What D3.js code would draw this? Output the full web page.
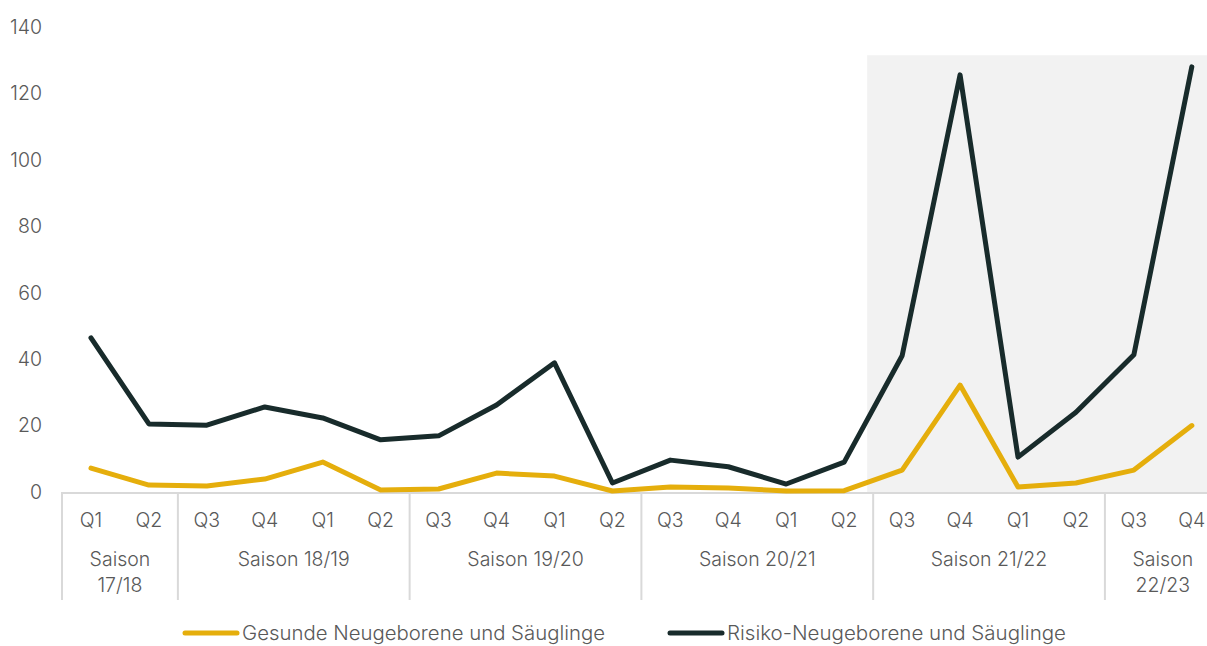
<!DOCTYPE html>
<html>
<head>
<meta charset="utf-8">
<script src="https://cdn.jsdelivr.net/npm/d3@7"></script>
<style>
  body { margin: 0; background: #fff; }
  svg { display: block; font-family: Inter, "Noto Sans", sans-serif; font-weight: 300; }
</style>
</head>
<body>
<script>
// Quarters and seasons
const quarters = ["Q1","Q2","Q3","Q4","Q1","Q2","Q3","Q4","Q1","Q2","Q3","Q4","Q1","Q2","Q3","Q4","Q1","Q2","Q3","Q4"];
const seasons = [
  { name: ["Saison", "17/18"], start: 0, end: 2 },
  { name: ["Saison 18/19"], start: 2, end: 6 },
  { name: ["Saison 19/20"], start: 6, end: 10 },
  { name: ["Saison 20/21"], start: 10, end: 14 },
  { name: ["Saison 21/22"], start: 14, end: 18 },
  { name: ["Saison", "22/23"], start: 18, end: 20 }
];
const healthy = [7.2, 2.1, 1.8, 3.9, 9.0, 0.6, 0.9, 5.7, 4.8, 0.3, 1.5, 1.2, 0.3, 0.4, 6.6, 32.2, 1.5, 2.7, 6.6, 20];
const risk = [46.4, 20.5, 20.1, 25.6, 22.3, 15.7, 16.9, 26.2, 38.9, 2.7, 9.6, 7.6, 2.4, 9.0, 41.0, 125.6, 10.5, 24.0, 41.3, 128];
const yTicks = [0, 20, 40, 60, 80, 100, 120, 140];
const shadeFrom = 14;

const W = 1207, H = 646;
const plotLeft = 62, bandW = 57.94, plotTop = 27, plotBottom = 492;

const svg = d3.select("body").append("svg")
  .attr("width", W).attr("height", H);

const idx = d3.range(quarters.length);
const x = d3.scaleBand()
  .domain(idx)
  .range([plotLeft, plotLeft + bandW * quarters.length]);
const y = d3.scaleLinear().domain([0, 140]).range([plotBottom, plotTop]);

// shaded area
svg.append("rect")
  .attr("x", x(shadeFrom) - 6)
  .attr("y", y(131.5))
  .attr("width", W - x(shadeFrom) + 6)
  .attr("height", plotBottom - y(131.5))
  .attr("fill", "#f2f2f2");

// y tick labels
svg.selectAll(".ytick")
  .data(yTicks)
  .enter().append("text")
  .attr("x", 42)
  .attr("y", d => y(d))
  .attr("dy", "0.35em")
  .attr("text-anchor", "end")
  .attr("fill", "#595959")
  .style("font-size", "19.5px")
  .text(d => d);

// axis line
svg.append("line")
  .attr("x1", plotLeft).attr("x2", W)
  .attr("y1", plotBottom + 1).attr("y2", plotBottom + 1)
  .attr("stroke", "#d9d9d9").attr("stroke-width", 2);

// season separators
const seps = [0].concat(seasons.map(s => s.end));
svg.selectAll(".sep")
  .data(seps)
  .enter().append("line")
  .attr("x1", d => x(0) + d * x.bandwidth())
  .attr("x2", d => x(0) + d * x.bandwidth())
  .attr("y1", plotBottom).attr("y2", 600)
  .attr("stroke", "#d9d9d9").attr("stroke-width", 2);

// quarter labels
svg.selectAll(".qlab")
  .data(idx)
  .enter().append("text")
  .attr("x", d => x(d) + x.bandwidth() / 2)
  .attr("y", 520)
  .attr("dy", "0.35em")
  .attr("text-anchor", "middle")
  .attr("fill", "#595959")
  .style("font-size", "19.5px")
  .text(d => quarters[d]);

// season labels
const sg = svg.selectAll(".slab")
  .data(seasons)
  .enter().append("text")
  .attr("text-anchor", "middle")
  .attr("fill", "#595959")
  .style("font-size", "19.5px");
sg.selectAll("tspan")
  .data(s => s.name.map(n => ({ n, s })))
  .enter().append("tspan")
  .attr("x", d => x(0) + (d.s.start + d.s.end) / 2 * x.bandwidth())
  .attr("y", (d, i) => 559 + i * 26)
  .attr("dy", "0.35em")
  .text(d => d.n);

// lines
const line = d3.line()
  .x((d, i) => x(i) + x.bandwidth() / 2)
  .y(d => y(d));

svg.append("path")
  .datum(healthy)
  .attr("d", line)
  .attr("fill", "none")
  .attr("stroke", "#e5ae0c")
  .attr("stroke-width", 5)
  .attr("stroke-linejoin", "round")
  .attr("stroke-linecap", "round");

svg.append("path")
  .datum(risk)
  .attr("d", line)
  .attr("fill", "none")
  .attr("stroke", "#182b2b")
  .attr("stroke-width", 5)
  .attr("stroke-linejoin", "round")
  .attr("stroke-linecap", "round");

// legend
const legend = [
  { label: "Gesunde Neugeborene und Säuglinge", color: "#e5ae0c", x: 183, len: 363 },
  { label: "Risiko-Neugeborene und Säuglinge", color: "#182b2b", x: 668, len: 339 }
];
const lg = svg.selectAll(".leg")
  .data(legend)
  .enter().append("g");
lg.append("line")
  .attr("x1", d => d.x + 2).attr("x2", d => d.x + 54)
  .attr("y1", 633).attr("y2", 633)
  .attr("stroke", d => d.color)
  .attr("stroke-width", 5)
  .attr("stroke-linecap", "round");
lg.append("text")
  .attr("x", d => d.x + 59)
  .attr("y", 633)
  .attr("dy", "0.35em")
  .attr("fill", "#595959")
  .attr("textLength", d => d.len)
  .attr("lengthAdjust", "spacingAndGlyphs")
  .style("font-size", "19.5px")
  .text(d => d.label);
</script>
</body>
</html>
